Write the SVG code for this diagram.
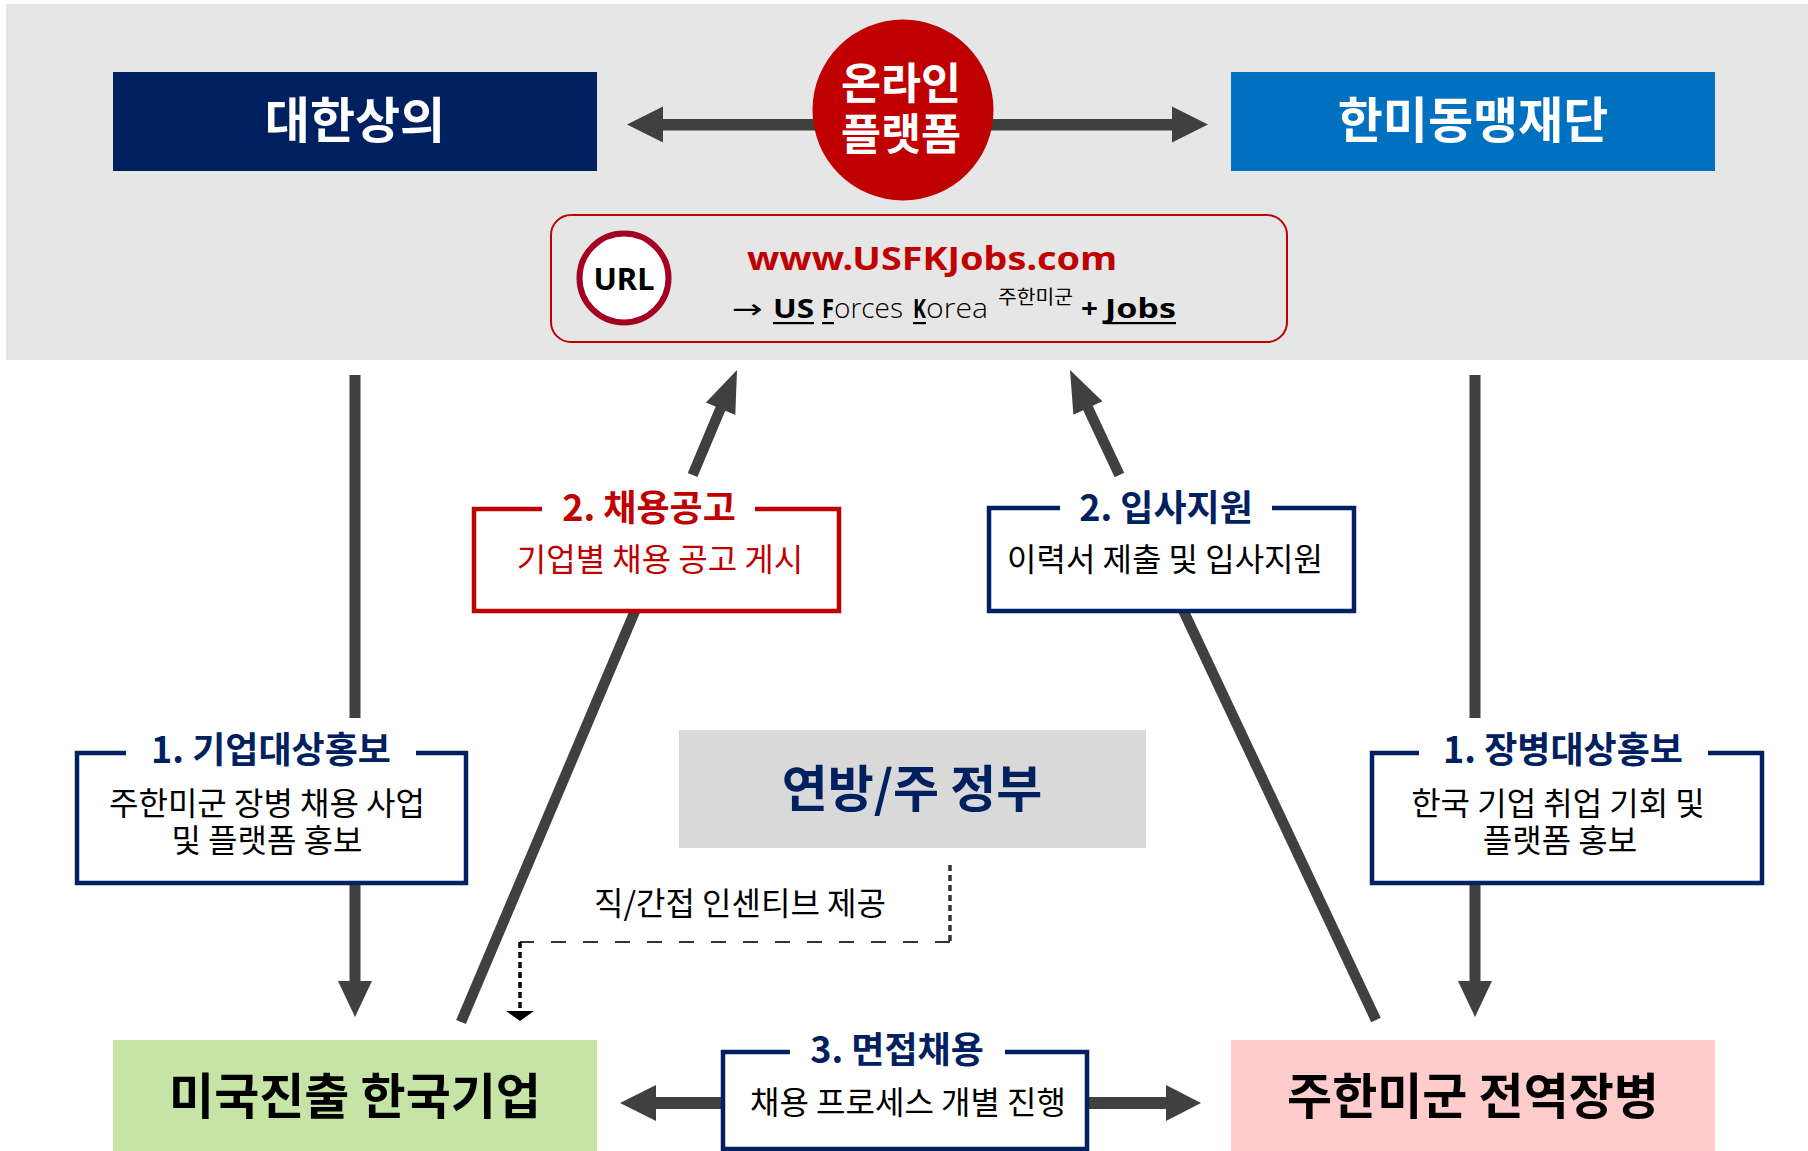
<svg xmlns="http://www.w3.org/2000/svg" width="1808" height="1151" viewBox="0 0 1808 1151">
<style>
text{font-family:"Noto Sans CJK KR","Noto Sans",sans-serif}
.b{font-weight:700}
.wt{fill:#fff}
.nv{fill:#002060}
.rd{fill:#C00000}
.bk{fill:#000}
.lbl{fill:none;stroke-width:4.5;stroke-linejoin:miter}
.ln{stroke:#404040;stroke-width:11;fill:none}
.dg{stroke:#404040;stroke-width:10.5;fill:none}
.hd{fill:#404040}
.t36{font-size:36px}
.t32{font-size:32px}
.t49{font-size:49px}
.lat{font-family:"Noto Sans",sans-serif}
.lt{font-family:"Open Sans","Noto Sans",sans-serif;font-weight:300}
</style>
<rect x="6" y="4" width="1802" height="356" fill="#E7E6E6"/>
<g id="connectors">
  <rect x="660" y="119" width="160" height="11.5" fill="#404040"/>
  <polygon class="hd" points="627,124.5 663,106.5 663,142.5"/>
  <rect x="985" y="119" width="190" height="11.5" fill="#404040"/>
  <polygon class="hd" points="1208,124.5 1172,106.5 1172,142.5"/>
  <line class="ln" x1="355" y1="375" x2="355" y2="718"/>
  <line class="ln" x1="355" y1="883" x2="355" y2="983"/>
  <polygon class="hd" points="338,981 372,981 355,1017"/>
  <line class="ln" x1="1475" y1="375" x2="1475" y2="718"/>
  <line class="ln" x1="1475" y1="883" x2="1475" y2="983"/>
  <polygon class="hd" points="1458,981 1492,981 1475,1017"/>
  <line class="dg" x1="461" y1="1022" x2="635" y2="611"/>
  <line class="dg" x1="692.6" y1="475" x2="722" y2="405"/>
  <polygon class="hd" points="737,370 735.3,415 705.9,402.5"/>
  <line class="dg" x1="1376" y1="1020" x2="1183.5" y2="611"/>
  <line class="dg" x1="1119.4" y1="475" x2="1087" y2="406"/>
  <polygon class="hd" points="1070,370 1102.4,401.2 1073.4,414.8"/>
  <rect x="652" y="1097" width="72" height="12" fill="#404040"/>
  <polygon class="hd" points="620,1103 656,1085 656,1121"/>
  <rect x="1085" y="1097" width="85" height="12" fill="#404040"/>
  <polygon class="hd" points="1201,1103 1166,1085 1166,1121"/>
  <line x1="950" y1="865" x2="950" y2="942" stroke="#333" stroke-width="3.5" stroke-dasharray="6 4"/>
  <line x1="950" y1="942" x2="520" y2="942" stroke="#333" stroke-width="2" stroke-dasharray="15 17"/>
  <line x1="520" y1="942" x2="520" y2="1010" stroke="#000" stroke-width="3.5" stroke-dasharray="6 4"/>
  <polygon points="506,1011 534,1011 520,1021" fill="#000"/>
</g>
<g id="node-daehan">
  <rect x="113" y="72" width="484" height="99" fill="#002060"/>
  <text x="355" y="138" class="b wt t49" text-anchor="middle">대한상의</text>
</g>
<g id="node-hanmi">
  <rect x="1231" y="72" width="484" height="99" fill="#0070C0"/>
  <text x="1473" y="138" class="b wt t49" text-anchor="middle">한미동맹재단</text>
</g>
<g id="node-platform">
  <circle cx="903" cy="110" r="90.5" fill="#C00000"/>
  <text class="b wt" font-size="43.5" text-anchor="middle"><tspan x="901" y="99">온라인</tspan><tspan x="901" y="150">플랫폼</tspan></text>
</g>
<g id="node-url">
  <rect x="551" y="215" width="736" height="127" rx="20" fill="none" stroke="#C00000" stroke-width="2"/>
  <circle cx="624" cy="278" r="44.5" fill="#fff" stroke="#A50021" stroke-width="6"/>
  <text x="624" y="290" class="b bk lat" font-size="31" text-anchor="middle">URL</text>
  <text x="747" y="270" class="b rd lat" font-size="33" textLength="370" lengthAdjust="spacingAndGlyphs">www.USFKJobs.com</text>
  <text y="318" class="lat" font-size="27" fill="#000"><tspan x="732" style="font-family:'DejaVu Sans',sans-serif" textLength="31" lengthAdjust="spacingAndGlyphs">→</tspan><tspan x="773" font-weight="700" textLength="41" lengthAdjust="spacingAndGlyphs">US</tspan><tspan x="822" font-weight="700" textLength="12" lengthAdjust="spacingAndGlyphs">F</tspan><tspan x="834" class="lt" textLength="69" lengthAdjust="spacingAndGlyphs">orces</tspan><tspan x="913" font-weight="700" textLength="13" lengthAdjust="spacingAndGlyphs">K</tspan><tspan x="926" class="lt" textLength="62" lengthAdjust="spacingAndGlyphs">orea</tspan><tspan x="998" y="304" font-size="19" style="font-family:'Noto Sans CJK KR',sans-serif" textLength="75" lengthAdjust="spacingAndGlyphs">주한미군</tspan><tspan x="1081" y="318" font-weight="700" textLength="17" lengthAdjust="spacingAndGlyphs">+</tspan><tspan x="1105" font-weight="700" textLength="71" lengthAdjust="spacingAndGlyphs">Jobs</tspan></text>
  <g fill="#000">
    <rect x="773" y="322" width="41" height="2.2"/>
    <rect x="822" y="322" width="12" height="2.2"/>
    <rect x="913" y="322" width="13" height="2.2"/>
    <rect x="1105" y="322" width="71" height="2.2"/>
  </g>
</g>
<g id="node-recruit-post">
  <rect x="474" y="509" width="365" height="102" fill="#fff"/>
  <path class="lbl" stroke="#C00000" d="M542,509 H474 V611 H839 V509 H755"/>
  <text x="649" y="521" class="b rd t36" text-anchor="middle">2. 채용공고</text>
  <text x="660" y="571" class="rd t32" text-anchor="middle">기업별 채용 공고 게시</text>
</g>
<g id="node-apply">
  <rect x="989" y="508" width="365" height="103" fill="#fff"/>
  <path class="lbl" stroke="#002060" d="M1060,508 H989 V611 H1354 V508 H1272"/>
  <text x="1166" y="521" class="b nv t36" text-anchor="middle">2. 입사지원</text>
  <text x="1165" y="571" class="bk t32" text-anchor="middle">이력서 제출 및 입사지원</text>
</g>
<g id="node-promo-company">
  <rect x="77" y="753" width="389" height="130" fill="#fff"/>
  <path class="lbl" stroke="#002060" d="M126,753 H77 V883 H466 V753 H416"/>
  <text x="271" y="763" class="b nv t36" text-anchor="middle">1. 기업대상홍보</text>
  <text class="bk t32" text-anchor="middle"><tspan x="267" y="815">주한미군 장병 채용 사업</tspan><tspan x="267" y="852">및 플랫폼 홍보</tspan></text>
</g>
<g id="node-promo-soldier">
  <rect x="1372" y="753" width="390" height="130" fill="#fff"/>
  <path class="lbl" stroke="#002060" d="M1419,753 H1372 V883 H1762 V753 H1708"/>
  <text x="1563" y="763" class="b nv t36" text-anchor="middle">1. 장병대상홍보</text>
  <text class="bk t32" text-anchor="middle"><tspan x="1558" y="815">한국 기업 취업 기회 및</tspan><tspan x="1560" y="852">플랫폼 홍보</tspan></text>
</g>
<g id="node-government">
  <rect x="679" y="730" width="467" height="118" fill="#D9D9D9"/>
  <text x="912" y="807" class="b nv" font-size="50" text-anchor="middle">연방/주 정부</text>
</g>
<g id="label-incentive">
  <text x="740" y="915" class="bk" font-size="32" text-anchor="middle">직/간접 인센티브 제공</text>
</g>
<g id="node-company">
  <rect x="113" y="1040" width="484" height="115" fill="#C6E4A6"/>
  <text x="355" y="1114" class="b bk t49" text-anchor="middle">미국진출 한국기업</text>
</g>
<g id="node-veteran">
  <rect x="1231" y="1040" width="484" height="115" fill="#FFCCCC"/>
  <text x="1473" y="1114" class="b bk t49" text-anchor="middle">주한미군 전역장병</text>
</g>
<g id="node-interview">
  <rect x="723" y="1052" width="364" height="97" fill="#fff"/>
  <path class="lbl" stroke="#002060" d="M790,1052 H723 V1149 H1087 V1052 H1005"/>
  <text x="897" y="1063" class="b nv t36" text-anchor="middle">3. 면접채용</text>
  <text x="908" y="1114" class="bk t32" text-anchor="middle">채용 프로세스 개별 진행</text>
</g>
</svg>
